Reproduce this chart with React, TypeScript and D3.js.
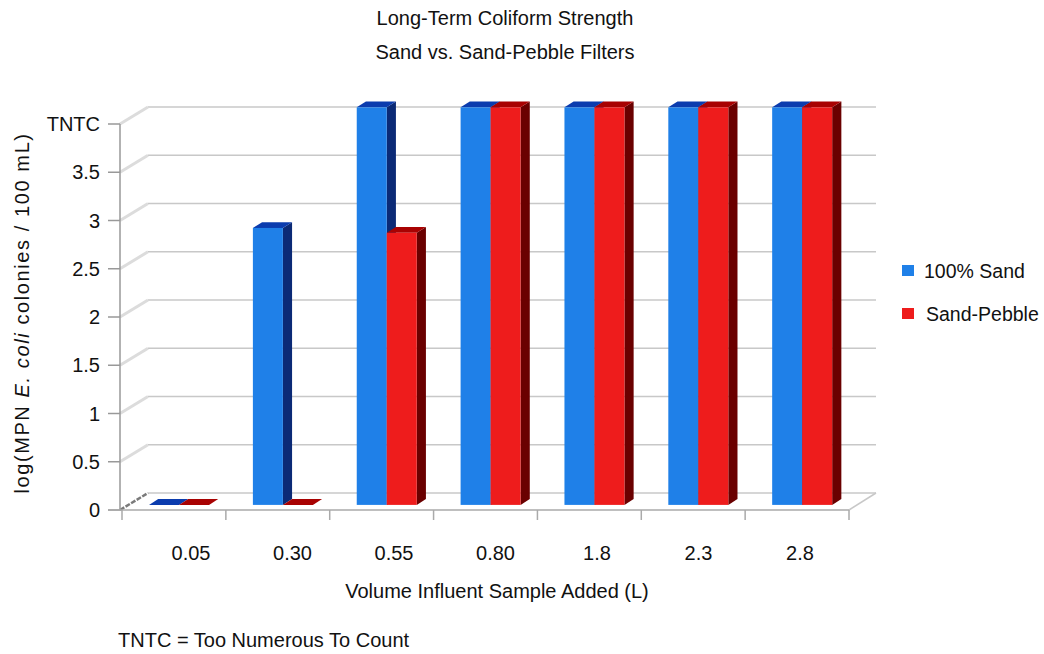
import React from 'react';
import * as d3 from 'd3';

// Sample volumes (L) along the x axis
const categories = ['0.05', '0.30', '0.55', '0.80', '1.8', '2.3', '2.8'];
const seriesNames = ['100% Sand', 'Sand-Pebble'];
// "Too numerous to count" samples are plotted just above the top tick
const TNTC = 4.12;
const sandValues = [0, 2.87, TNTC, TNTC, TNTC, TNTC, TNTC];
const pebbleValues = [0, 0, 2.82, TNTC, TNTC, TNTC, TNTC];
const yTicks = [0, 0.5, 1, 1.5, 2, 2.5, 3, 3.5, 4];
const yTickLabels = ['0', '0.5', '1', '1.5', '2', '2.5', '3', '3.5', 'TNTC'];

const seriesValues = [sandValues, pebbleValues];
const palette = [
  { front: '#1f80e8', top: '#0b3cae', side: '#0b2a76' },
  { front: '#ee1c1c', top: '#a80202', side: '#6a0000' },
];

const W = 1044;
const H = 654;
const FONT = '"Liberation Sans", Arial, sans-serif';
const FS = 20;

// Oblique projection: depth z in [0,1] shifts right and up
const DX = 27;
const DY = -17;
const Z0 = 0.3; // bar front face depth
const Z1 = 0.64; // bar back face depth

const x = d3.scaleBand<string>().domain(categories).range([122, 849]).paddingInner(0).paddingOuter(0);
const inner = d3.scaleBand<string>().domain(seriesNames).range([-33, 27]);
const y = d3.scaleLinear().domain([0, 4]).range([510, 124]);
// category labels sit on the floor, slightly foreshortened
const xLabel = d3.scalePoint<string>().domain(categories).range([191, 800]);

const proj = (px: number, v: number, z: number): [number, number] => [px + z * DX, y(v) + z * DY];
const pts = (arr: [number, number][]) => arr.map((p) => p.join(',')).join(' ');

export default function App() {
  const axisLeft = 120;
  const bars: JSX.Element[] = [];
  categories.forEach((c, i) => {
    const cx = (x(c) as number) + x.bandwidth() / 2;
    seriesNames.forEach((s, si) => {
      const v = seriesValues[si][i];
      const x0 = cx + (inner(s) as number);
      const x1 = x0 + inner.bandwidth();
      const col = palette[si];
      const side = [proj(x1, 0, Z0), proj(x1, v, Z0), proj(x1, v, Z1), proj(x1, 0, Z1)];
      const top = [proj(x0, v, Z0), proj(x1, v, Z0), proj(x1, v, Z1), proj(x0, v, Z1)];
      const f0 = proj(x0, v, Z0);
      const f1 = proj(x1, 0, Z0);
      bars.push(
        <g key={`${c}-${s}`}>
          <polygon points={pts(side)} fill={col.side} />
          <polygon points={pts(top)} fill={col.top} />
          {v > 0 && <rect x={f0[0]} y={f0[1]} width={f1[0] - f0[0]} height={f1[1] - f0[1]} fill={col.front} />}
        </g>
      );
    });
  });

  const backX0 = axisLeft + 28;
  const backX1 = 849 + DX;

  return (
    <svg width={W} height={H} style={{ position: 'absolute', left: 0, top: 0, background: '#fff' }} fontFamily={FONT}>
      <rect width={W} height={H} fill="#fff" />
      {/* titles */}
      <text x={505} y={25} fontSize={FS} textAnchor="middle" fill="#111">Long-Term Coliform Strength</text>
      <text x={505} y={59} fontSize={FS} textAnchor="middle" fill="#111">Sand vs. Sand-Pebble Filters</text>

      {/* back wall gridlines and side connectors */}
      {yTicks.map((t) => (
        <g key={`g${t}`}>
          <line x1={backX0} x2={backX1} y1={y(t) + DY} y2={y(t) + DY} stroke="#c8c8c8" strokeWidth={1.5} />
          <line x1={axisLeft} y1={y(t)} x2={backX0} y2={y(t) + DY} stroke={t === 0 ? '#7a7a7a' : '#dcdcdc'} strokeWidth={t === 0 ? 2.5 : 3} strokeDasharray={t === 0 ? '5,1.5' : undefined} />
        </g>
      ))}
      {/* floor right edge */}
      <line x1={849} y1={y(0)} x2={backX1} y2={y(0) + DY} stroke="#c8c8c8" strokeWidth={1.5} />

      {/* front value axis */}
      <line x1={axisLeft} x2={axisLeft} y1={y(4)} y2={y(0)} stroke="#999" strokeWidth={1.5} />
      {yTicks.map((t, i) => (
        <g key={`t${t}`}>
          <line x1={108} x2={axisLeft} y1={y(t)} y2={y(t)} stroke="#999" strokeWidth={1.5} />
          <text x={100} y={y(t) + 7} fontSize={FS} textAnchor="end" fill="#111">{yTickLabels[i]}</text>
        </g>
      ))}

      {/* front category axis */}
      <line x1={108} x2={849} y1={y(0)} y2={y(0)} stroke="#aaa" strokeWidth={1.5} />
      {[...categories.map((c) => x(c) as number), 849].map((b, i) => (
        <line key={`xt${i}`} x1={b} x2={b} y1={y(0)} y2={y(0) + 10} stroke="#aaa" strokeWidth={1.5} />
      ))}

      {bars}

      {categories.map((c) => (
        <text key={`xl${c}`} x={xLabel(c) as number} y={560} fontSize={FS} textAnchor="middle" fill="#111">{c}</text>
      ))}

      <text x={497} y={598} fontSize={FS} textAnchor="middle" fill="#111">Volume Influent Sample Added (L)</text>
      <text transform="translate(29,313) rotate(-90)" fontSize={FS} letterSpacing={1.6} textAnchor="middle" fill="#111">
        log(MPN <tspan fontStyle="italic">E. coli</tspan> colonies / 100 mL)
      </text>

      {/* legend */}
      {seriesNames.map((s, i) => (
        <g key={`lg${s}`} transform={`translate(902,${271 + i * 43})`}>
          <rect x={0} y={-6} width={12} height={11} fill={palette[i].front} />
          <text x={i === 0 ? 22 : 24} y={7} fontSize={19.5} fill="#111">{s}</text>
        </g>
      ))}

      <text x={118} y={647} fontSize={FS} fill="#111">TNTC = Too Numerous To Count</text>
    </svg>
  );
}
